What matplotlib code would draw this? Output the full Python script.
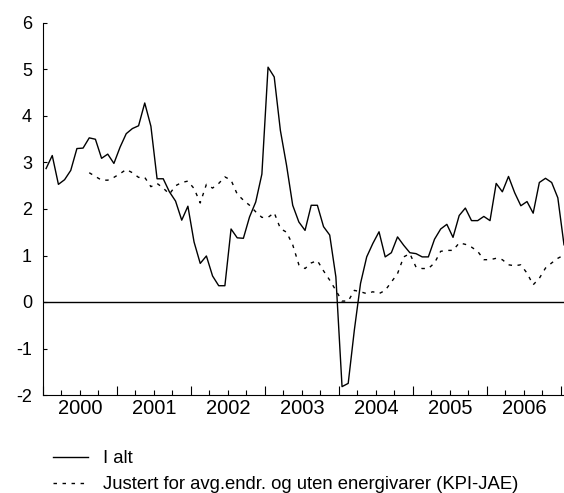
import numpy as np
import matplotlib
matplotlib.use('Agg')
import matplotlib.pyplot as plt

plt.rcParams['font.family'] = ['Liberation Sans', 'DejaVu Sans']
plt.rcParams['axes.unicode_minus'] = False

# Monthly 12-month change (%), Jan 2000 onwards
total = [2.87, 3.15, 2.53, 2.63, 2.83, 3.30, 3.31, 3.53, 3.50, 3.09, 3.18, 2.98,
         3.33, 3.62, 3.73, 3.79, 4.28, 3.78, 2.65, 2.65, 2.37, 2.17, 1.76, 2.06,
         1.29, 0.83, 0.99, 0.56, 0.35, 0.35, 1.57, 1.38, 1.37, 1.83, 2.15, 2.75,
         5.05, 4.84, 3.69, 2.94, 2.08, 1.72, 1.54, 2.08, 2.08, 1.62, 1.44, 0.54,
         -1.82, -1.75, -0.60, 0.40, 0.97, 1.26, 1.51, 0.97, 1.06, 1.40, 1.22, 1.06,
         1.04, 0.97, 0.97, 1.35, 1.57, 1.67, 1.39, 1.86, 2.02, 1.75, 1.75, 1.84,
         1.75, 2.55, 2.37, 2.70, 2.35, 2.07, 2.16, 1.91, 2.57, 2.66, 2.57, 2.24,
         1.23]

# KPI-JAE starts Aug 2000
jae_start = 7
jae = [2.78, 2.70, 2.62, 2.62, 2.68,
       2.76, 2.85, 2.78, 2.68, 2.68, 2.48, 2.55, 2.45, 2.32, 2.50, 2.57, 2.60,
       2.44, 2.13, 2.53, 2.45, 2.55, 2.69, 2.62, 2.32, 2.19, 2.08, 1.94, 1.82,
       1.82, 1.92, 1.58, 1.50, 1.23, 0.80, 0.72, 0.84, 0.89, 0.67, 0.47, 0.25,
       0.02, 0.02, 0.25, 0.22, 0.18, 0.22, 0.18, 0.25, 0.43, 0.61, 0.97, 1.04,
       0.75, 0.72, 0.72, 0.84, 1.09, 1.11, 1.11, 1.27, 1.24, 1.18, 1.09, 0.91,
       0.91, 0.94, 0.91, 0.80, 0.78, 0.80, 0.62, 0.37, 0.51, 0.73, 0.84, 0.94,
       1.01]

years = ['2000', '2001', '2002', '2003', '2004', '2005', '2006']
labels = ['I alt', 'Justert for avg.endr. og uten energivarer (KPI-JAE)']

x_total = np.arange(len(total)) + 0.5
x_jae = np.arange(jae_start, jae_start + len(jae)) + 0.5

W, H = 564, 493
fig = plt.figure(figsize=(W / 100, H / 100), dpi=100)
ax = fig.add_axes([43 / W, 1 - 395 / H, (W - 43) / W, 372 / H])

l1, = ax.plot(x_total, total, color='black', lw=1.0)
l2, = ax.plot(x_jae, jae, color='black', lw=1.0, linestyle=(0, (2.5, 4)))
ax.axhline(0, color='black', lw=1.0)

ax.set_xlim(0, 84.5)
ax.set_ylim(-2, 6)
ax.set_yticks(range(-2, 7))
ax.tick_params(axis='y', direction='in', length=3, width=0.8, labelsize=13, pad=8)

n = len(years) * 12
ax.set_xticks(range(0, n + 1, 12), labels=[''] * (len(years) + 1))
minor = [m for m in range(3, n, 3) if m % 12 != 0]
ax.set_xticks(minor, labels=[years[m // 12] if m % 12 == 6 else '' for m in minor], minor=True)
ax.tick_params(axis='x', which='major', direction='in', length=6.5, width=0.8)
ax.tick_params(axis='x', which='minor', direction='in', length=3.5, width=0.8,
               labelsize=14.5, pad=3)

for s in ['top', 'right']:
    ax.spines[s].set_visible(False)
for s in ['left', 'bottom']:
    ax.spines[s].set_linewidth(0.8)

fig.legend([l1, l2], labels, loc='upper left', bbox_to_anchor=(53 / W, 1 - 450 / H),
           frameon=False, fontsize=13.3, handlelength=1.9, handletextpad=0.8,
           borderpad=0, borderaxespad=0, labelspacing=0.5)

fig.savefig('out.png', dpi=100)
